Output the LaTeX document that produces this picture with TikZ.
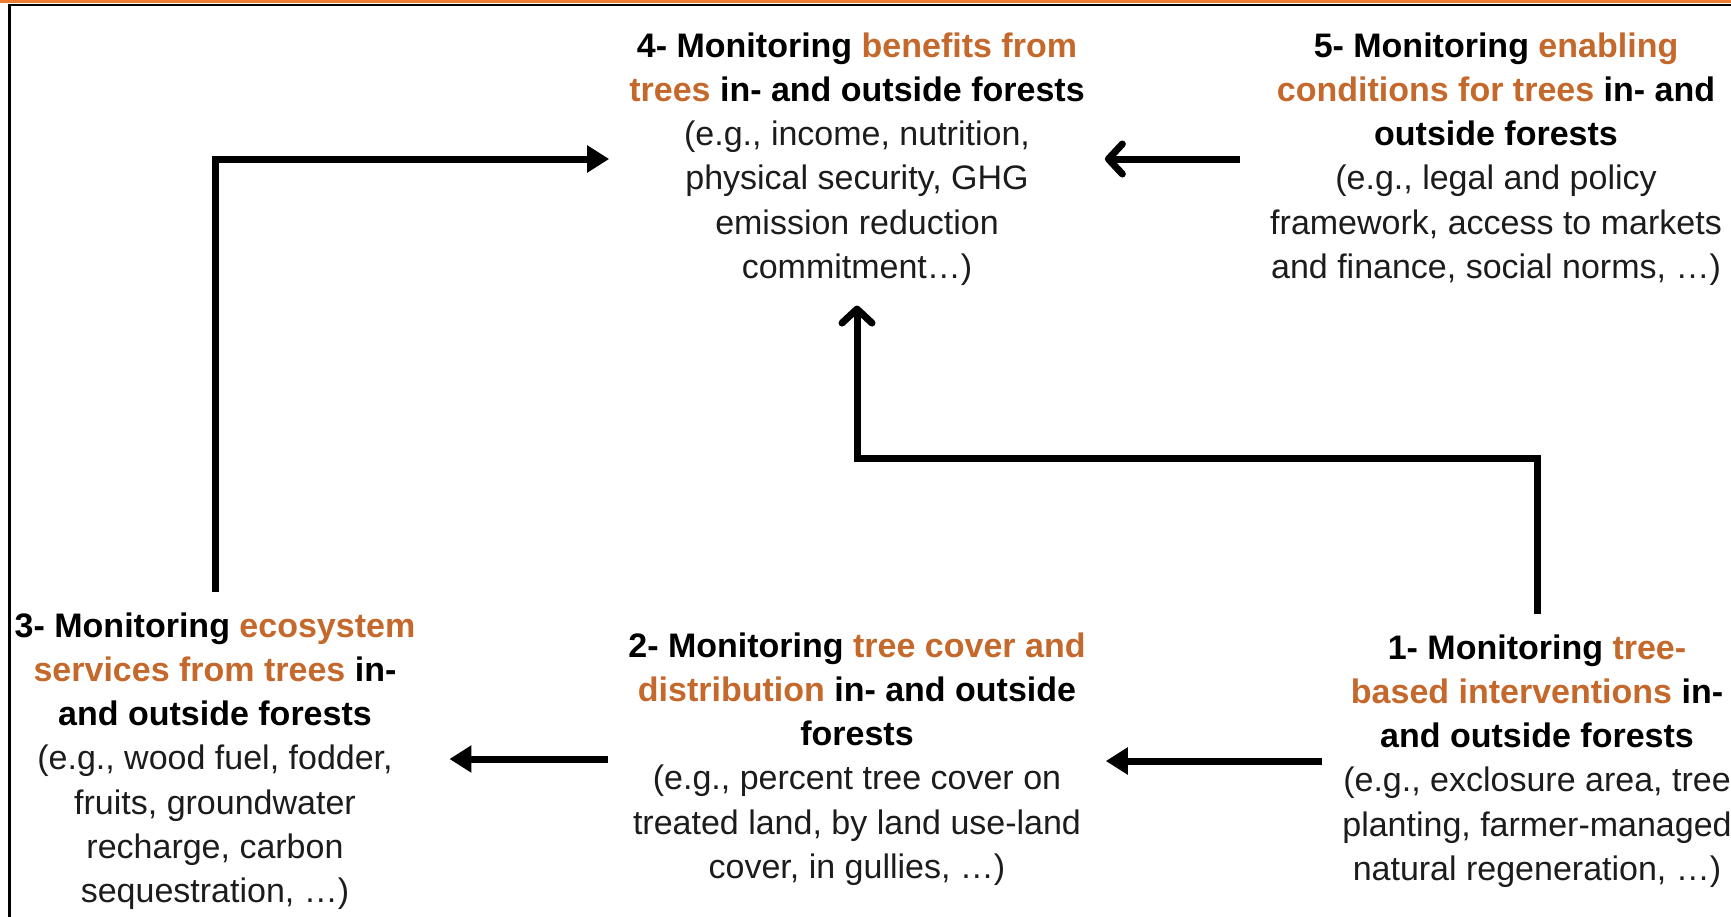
\documentclass[tikz,border=0pt]{standalone}
\usepackage{fontspec}
\setmainfont{Liberation Sans}
\usetikzlibrary{arrows.meta}
\definecolor{accent}{RGB}{196,104,44}
\definecolor{topline}{RGB}{237,125,49}
\definecolor{bodytext}{RGB}{28,28,28}
% orange key words and bold black headings
\newcommand{\acc}[1]{\textcolor{accent}{#1}}
\newcommand{\head}[1]{\textcolor{black}{\bfseries #1}}
\begin{document}
\begin{tikzpicture}[x=1pt,y=-1pt,
  stage/.style={align=center, inner xsep=20pt, inner ysep=20pt, text=bodytext,
    font=\fontsize{34}{44.2}\selectfont},
  flow/.style={line width=7pt, -{Triangle[length=22pt,width=26pt]}},
  flowopen/.style={line width=7pt, -{Straight Barb[round,length=14pt,width=30pt]}}]
\useasboundingbox (0,0) rectangle (1731,916);
% frame
\draw[topline, line width=3pt] (0,1.5) -- (1731,1.5);
\draw[line width=2.5pt] (9.5,930) -- (9.5,4.8) -- (1745,4.8);

% stages
\node[stage] (n4) at (857,159) {\head{4- Monitoring \acc{benefits from}}\\
  \head{\acc{trees} in- and outside forests}\\
  (e.g., income, nutrition,\\ physical security, GHG\\ emission reduction\\ commitment…)};
\node[stage] (n5) at (1496,159) {\head{5- Monitoring \acc{enabling}}\\
  \head{\acc{conditions for trees} in- and}\\ \head{outside forests}\\
  (e.g., legal and policy\\ framework, access to markets\\ and finance, social norms, …)};
\node[stage] (n3) at (215,761) {\head{3- Monitoring \acc{ecosystem}}\\
  \head{\acc{services from trees} in-}\\ \head{and outside forests}\\
  (e.g., wood fuel, fodder,\\ fruits, groundwater\\ recharge, carbon\\ sequestration, …)};
\node[stage] (n2) at (857,759) {\head{2- Monitoring \acc{tree cover and}}\\
  \head{\acc{distribution} in- and outside}\\ \head{forests}\\
  (e.g., percent tree cover on\\ treated land, by land use-land\\ cover, in gullies, …)};
\node[stage] (n1) at (1537,761) {\head{1- Monitoring \acc{tree-}}\\
  \head{\acc{based interventions} in-}\\ \head{and outside forests}\\
  (e.g., exclosure area, tree\\ planting, farmer-managed\\ natural regeneration, …)};

% connectors
\draw[flow] (n3.north) |- (n4.west);
\draw[flowopen, shorten <=10pt] (n5.west) -- (n4.east);
\draw[flowopen] (n1.north) -- ++(0,-156) -| (n4.south);
\draw[flow, shorten >=14pt] (n2.west) -- (n2.west -| n3.east);
\draw[flow] (n1.west) -- (n1.west -| n2.east);
\end{tikzpicture}
\end{document}
